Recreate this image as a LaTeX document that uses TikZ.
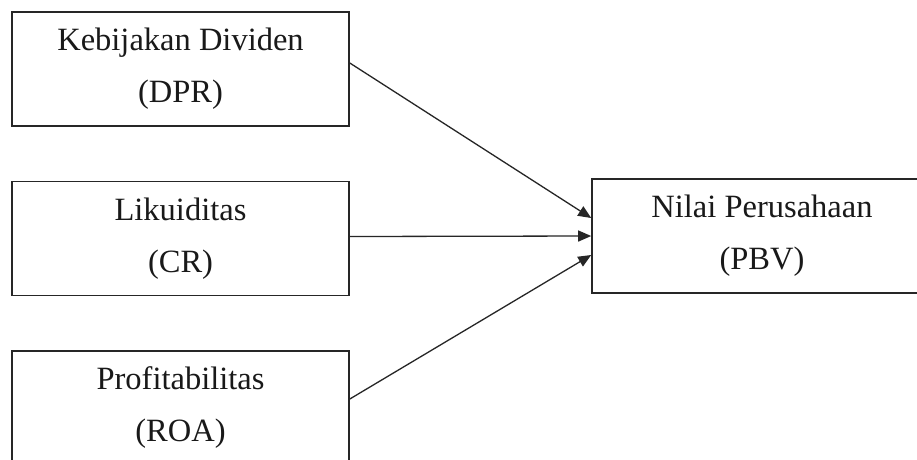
\documentclass[tikz,border=0pt]{standalone}
\usepackage{fontspec}
\setmainfont{Liberation Serif}
\usetikzlibrary{arrows.meta}
\begin{document}
\begin{tikzpicture}[x=1pt,y=-1pt,
  box/.style={draw=black!85, line width=1.6pt, rectangle, minimum width=337pt, minimum height=114pt,
    inner sep=0pt, align=center, text=black!90, font=\fontsize{32.5}{52}\selectfont},
  arr/.style={draw=black!85, line width=1.3pt, -{Triangle[length=13pt,width=11pt]}}]
\clip (0,0) rectangle (917,459);
\fill[white] (0,0) rectangle (917,459);
\node[box] (dpr) at (180.5,69) {Kebijakan Dividen\\(DPR)};
\node[box] (cr) at (180.5,238.5) {Likuiditas\\(CR)};
\node[box] (roa) at (180.5,408) {Profitabilitas\\(ROA)};
\node[box, minimum width=340pt] (pbv) at (762,236) {Nilai Perusahaan\\(PBV)};
\draw[arr] ([yshift=6pt]dpr.east) -- ([yshift=18pt]pbv.west);
\draw[arr] ([yshift=2pt]cr.east) -- (pbv.west);
\draw[arr] ([yshift=9pt]roa.east) -- ([yshift=-19pt]pbv.west);
\end{tikzpicture}
\end{document}
